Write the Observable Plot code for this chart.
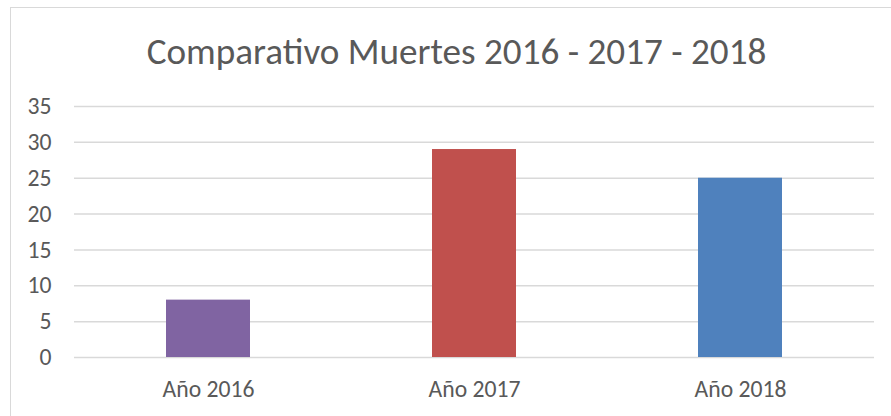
<!DOCTYPE html>
<html>
<head>
<meta charset="utf-8">
<script src="https://cdn.jsdelivr.net/npm/d3@7"></script>
<script src="https://cdn.jsdelivr.net/npm/@observablehq/plot@0.6"></script>
<style>
  body { margin: 0; background: #fff; }
  #wrap { position: relative; width: 891px; height: 416px; overflow: hidden; }
  #frame { position: absolute; left: 10px; top: 7px; width: 910px; height: 440px; border: 1px solid #d9d9d9; box-sizing: border-box; }
  #chart { position: absolute; left: 0; top: 0; }
  #chart svg { display: block; }
</style>
</head>
<body>
<div id="wrap"><div id="frame"></div><div id="chart"></div></div>
<script>
const title = "Comparativo Muertes 2016 - 2017 - 2018";
const categories = ["Año 2016", "Año 2017", "Año 2018"];
const values = [8, 29, 25];
const colors = ["#8064A2", "#C0504D", "#4F81BD"];
const yTicks = [0, 5, 10, 15, 20, 25, 30, 35];

const fontFamily = "Calibri, Carlito, Lato, sans-serif";
const ctx = document.createElement("canvas").getContext("2d");
function fit(text, target, base) {
  ctx.font = `${base}px ${fontFamily}`;
  return base * target / ctx.measureText(text).width;
}
const titleSize = fit(title, 620, 30);
const tickSize = fit(categories[0], 92, 20);

const data = categories.map((c, i) => ({cat: c, val: values[i]}));

const chart = Plot.plot({
  width: 891,
  height: 416,
  marginLeft: 74,
  marginRight: 17,
  marginTop: 106,
  marginBottom: 59,
  style: {fontFamily, fontSize: tickSize + "px", color: "#595959", background: "transparent"},
  x: {domain: categories, paddingInner: 0.685, paddingOuter: 0.3425, label: null, tickSize: 0, tickPadding: 23},
  y: {domain: [0, 35], ticks: yTicks, label: null, tickSize: 0, tickPadding: 23},
  color: {domain: categories, range: colors},
  marks: [
    Plot.ruleY(yTicks, {stroke: "#d9d9d9", strokeWidth: 1.5}),
    Plot.barY(data, {x: "cat", y: "val", fill: "cat"}),
    Plot.text([title], {frameAnchor: "top", dx: -18, dy: -43, lineAnchor: "bottom", fontSize: titleSize, fill: "#595959"})
  ]
});
document.getElementById("chart").appendChild(chart);
</script>
</body>
</html>
